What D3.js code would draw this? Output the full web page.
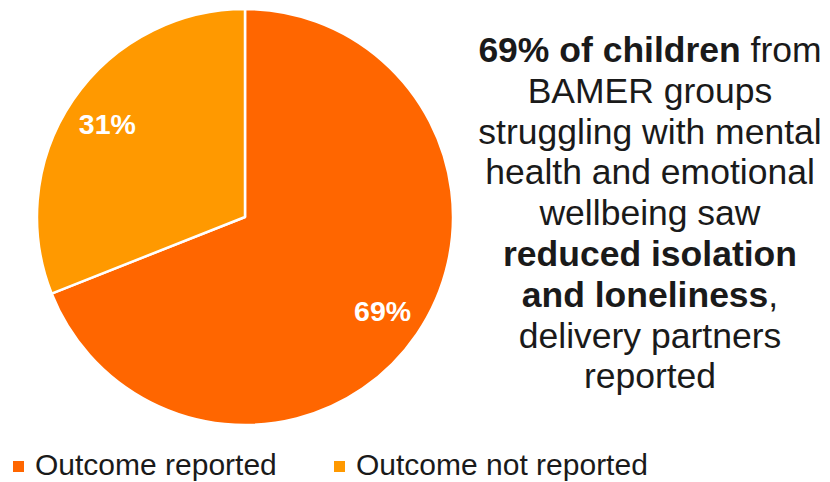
<!DOCTYPE html>
<html>
<head>
<meta charset="utf-8">
<script src="https://cdn.jsdelivr.net/npm/d3@7"></script>
<style>
  html, body { margin: 0; padding: 0; background: #ffffff; }
  svg { display: block; font-family: "Liberation Sans", Arial, sans-serif; }
</style>
</head>
<body>
<svg id="chart" width="830" height="482"></svg>
<script>
// Share of children with the outcome reported
const categories = ["Outcome reported", "Outcome not reported"];
const values = [69, 31];
const colors = ["#FF6600", "#FF9900"];

// Statement beside the pie: each line is a list of [text, bold] runs
const statementLines = [
  [["69% of children", true], [" from", false]],
  [["BAMER groups", false]],
  [["struggling with mental", false]],
  [["health and emotional", false]],
  [["wellbeing saw", false]],
  [["reduced isolation", true]],
  [["and loneliness", true], [",", false]],
  [["delivery partners", false]],
  [["reported", false]]
];

const svg = d3.select("#chart");
const cx = 245, cy = 217, radius = 208;

const pie = d3.pie().sort(null).value(d => d.value);
const arcs = pie(categories.map((c, i) => ({ name: c, value: values[i], color: colors[i] })));

const arc = d3.arc().innerRadius(0).outerRadius(radius);
const labelArc = d3.arc().innerRadius(radius * 0.6).outerRadius(radius);

const g = svg.append("g").attr("transform", `translate(${cx},${cy})`);

g.selectAll("path.slice")
  .data(arcs)
  .join("path")
  .attr("class", "slice")
  .attr("d", arc)
  .attr("fill", d => d.data.color)
  .attr("stroke", "#ffffff")
  .attr("stroke-width", 2.5)
  .attr("stroke-linejoin", "round");

g.selectAll("text.pct")
  .data(arcs)
  .join("text")
  .attr("class", "pct")
  .attr("transform", d => `translate(${labelArc.centroid(d)})`)
  .attr("text-anchor", "middle")
  .attr("dy", "0.36em")
  .attr("fill", "#ffffff")
  .attr("font-weight", "bold")
  .attr("font-size", 28.5)
  .text(d => d.data.value + "%");

// Statement text block
const text = svg.append("text")
  .attr("text-anchor", "middle")
  .attr("font-size", 35.5)
  .attr("fill", "#1a1a1a");

statementLines.forEach((runs, i) => {
  runs.forEach((run, j) => {
    const ts = text.append("tspan")
      .attr("font-weight", run[1] ? "bold" : "normal")
      .text(run[0]);
    if (j === 0) ts.attr("x", 650).attr("y", 62 + i * 40.8);
  });
});

// Legend
const legendX = [13, 334];
const legend = svg.selectAll("g.legend")
  .data(categories)
  .join("g")
  .attr("class", "legend")
  .attr("transform", (d, i) => `translate(${legendX[i]},461)`);

legend.append("rect")
  .attr("width", 11)
  .attr("height", 11)
  .attr("fill", (d, i) => colors[i]);

legend.append("text")
  .attr("x", 22)
  .attr("y", 14)
  .attr("font-size", 30)
  .attr("fill", "#1a1a1a")
  .text(d => d);
</script>
</body>
</html>
